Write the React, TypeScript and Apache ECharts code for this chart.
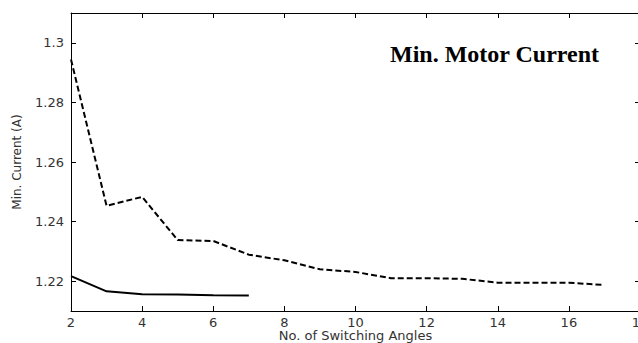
import React, { useEffect, useRef } from "react";
import * as echarts from "echarts";

const switchingAngles = [2, 3, 4, 5, 6, 7, 8, 9, 10, 11, 12, 13, 14, 15, 16, 17];
const dashedCurrent = [1.2944, 1.2453, 1.2483, 1.2338, 1.2335, 1.2289, 1.227, 1.224, 1.2231, 1.221, 1.221, 1.2208, 1.2195, 1.2195, 1.2195, 1.2187];
const solidAngles = [2, 3, 4, 5, 6, 7];
const solidCurrent = [1.2217, 1.2166, 1.2156, 1.2155, 1.2153, 1.2152];
const yTickValues = [1.22, 1.24, 1.26, 1.28, 1.3];

export default function App() {
  const ref = useRef<HTMLDivElement>(null);
  useEffect(() => {
    document.body.style.margin = "0";
    const chart = echarts.init(ref.current!, null, { renderer: "svg" });
    const font = "DejaVu Sans, Verdana, sans-serif";
    const axisLine = { show: true, lineStyle: { color: "#000", width: 1 } };
    const tick = { show: true, inside: true, length: 5, lineStyle: { color: "#000", width: 1 } };
    chart.setOption({
      animation: false,
      backgroundColor: "#fff",
      grid: { left: 71, top: 13, width: 569, height: 298, containLabel: false, outerBoundsMode: "none" },
      title: {
        text: "Min. Motor Current",
        left: 385,
        top: 37,
        textStyle: { fontFamily: "Liberation Serif, Times New Roman, serif", fontWeight: "bold", fontSize: 24, color: "#000" },
      },
      xAxis: [
        {
          type: "value",
          min: 2,
          max: 18,
          interval: 2,
          position: "bottom",
          name: "No. of Switching Angles",
          nameLocation: "middle",
          nameGap: 18,
          nameMoveOverlap: false,
          nameTextStyle: { fontFamily: font, fontSize: 13, color: "#333", lineHeight: 13, verticalAlign: "top" },
          axisLine,
          axisTick: tick,
          axisLabel: { fontFamily: font, fontSize: 13, lineHeight: 12, color: "#333", margin: 5, showMinLabel: true, showMaxLabel: true },
          splitLine: { show: false },
        },
        {
          type: "value",
          min: 2,
          max: 18,
          interval: 2,
          position: "top",
          axisLine,
          axisTick: tick,
          axisLabel: { show: false },
          splitLine: { show: false },
        },
      ],
      yAxis: [
        {
          type: "value",
          min: 1.21,
          max: 1.31,
          position: "left",
          name: "Min. Current (A)",
          nameLocation: "middle",
          nameGap: 48,
          nameMoveOverlap: false,
          nameRotate: 90,
          nameTextStyle: { fontFamily: font, fontSize: 12, color: "#333" },
          axisLine,
          axisTick: { ...tick, customValues: yTickValues },
          axisLabel: { fontFamily: font, fontSize: 13, color: "#333", margin: 7, customValues: yTickValues },
          splitLine: { show: false },
        },
        {
          type: "value",
          min: 1.21,
          max: 1.31,
          position: "right",
          axisLine,
          axisTick: { ...tick, customValues: yTickValues },
          axisLabel: { show: false },
          splitLine: { show: false },
        },
      ],
      series: [
        {
          type: "line",
          data: switchingAngles.map((x, i) => [x, dashedCurrent[i]]),
          showSymbol: false,
          lineStyle: { color: "#000", width: 2, type: [6, 3] },
        },
        {
          type: "line",
          data: solidAngles.map((x, i) => [x, solidCurrent[i]]),
          showSymbol: false,
          lineStyle: { color: "#000", width: 2, type: "solid" },
        },
      ],
    });
    return () => chart.dispose();
  }, []);
  return <div ref={ref} style={{ width: 638, height: 343 }} />;
}
